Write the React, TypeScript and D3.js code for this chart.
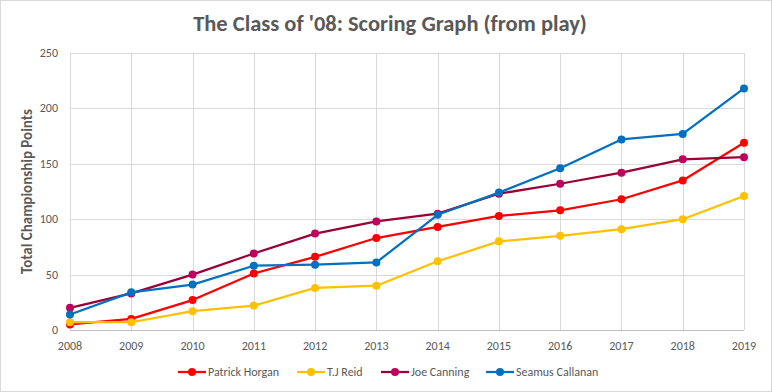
import React, { useRef, useEffect } from 'react'
import * as d3 from 'd3'

const WIDTH = 772
const HEIGHT = 392
const MARGIN = { top: 53, right: 28, bottom: 62, left: 70 }

const years = [2008, 2009, 2010, 2011, 2012, 2013, 2014, 2015, 2016, 2017, 2018, 2019]
const yTicks = [0, 50, 100, 150, 200, 250]

const patrickHorgan = [5, 10, 27, 51, 66, 83, 93, 103, 108, 118, 135, 169]
const tjReid = [7, 7, 17, 22, 38, 40, 62, 80, 85, 91, 100, 121]
const joeCanning = [20, 33, 50, 69, 87, 98, 105, 123, 132, 142, 154, 156]
const seamusCallanan = [14, 34, 41, 58, 59, 61, 104, 124, 146, 172, 177, 218]

const seriesNames = ['Patrick Horgan', 'T.J Reid', 'Joe Canning', 'Seamus Callanan']

const seriesStyles = [
  { line: '#FF0000', marker: '#FF0000' },
  { line: '#FFC000', marker: '#FFC000' },
  { line: '#990033', marker: '#C0005E' },
  { line: '#0070C0', marker: '#0070C0' }
]

const TEXT_COLOR = '#595959'
const FONT = 'Carlito, Calibri, "Open Sans", sans-serif'

const App = () => {
  const ref = useRef<SVGSVGElement>(null)

  useEffect(() => {
    const svg = d3.select(ref.current)
    svg.selectAll('*').remove()

    const allSeries = [patrickHorgan, tjReid, joeCanning, seamusCallanan]

    const x = d3
      .scaleLinear()
      .domain([years[0], years[years.length - 1]])
      .range([MARGIN.left, WIDTH - MARGIN.right])

    const y = d3
      .scaleLinear()
      .domain([0, 250])
      .range([HEIGHT - MARGIN.bottom, MARGIN.top])

    // chart frame
    svg
      .append('rect')
      .attr('x', 0.5)
      .attr('y', 0.5)
      .attr('width', WIDTH - 1)
      .attr('height', HEIGHT - 1)
      .attr('fill', '#fff')
      .attr('stroke', '#D9D9D9')

    // horizontal gridlines
    svg
      .append('g')
      .selectAll('line')
      .data(yTicks.slice(1))
      .join('line')
      .attr('x1', MARGIN.left)
      .attr('x2', WIDTH - MARGIN.right)
      .attr('y1', d => Math.round(y(d)) + 0.5)
      .attr('y2', d => Math.round(y(d)) + 0.5)
      .attr('stroke', '#D9D9D9')

    // vertical gridlines
    svg
      .append('g')
      .selectAll('line')
      .data(years)
      .join('line')
      .attr('x1', d => Math.round(x(d)) + 0.5)
      .attr('x2', d => Math.round(x(d)) + 0.5)
      .attr('y1', y(250))
      .attr('y2', y(0))
      .attr('stroke', '#D9D9D9')

    // baseline
    svg
      .append('line')
      .attr('x1', MARGIN.left)
      .attr('x2', WIDTH - MARGIN.right)
      .attr('y1', Math.round(y(0)) + 0.5)
      .attr('y2', Math.round(y(0)) + 0.5)
      .attr('stroke', '#BFBFBF')

    // y tick labels
    svg
      .append('g')
      .selectAll('text')
      .data(yTicks)
      .join('text')
      .attr('x', MARGIN.left - 12)
      .attr('y', d => y(d) + 4)
      .attr('text-anchor', 'end')
      .attr('font-family', FONT)
      .attr('font-size', 12)
      .attr('fill', TEXT_COLOR)
      .text(d => d)

    // x tick labels
    svg
      .append('g')
      .selectAll('text')
      .data(years)
      .join('text')
      .attr('x', d => x(d))
      .attr('y', y(0) + 20)
      .attr('text-anchor', 'middle')
      .attr('font-family', FONT)
      .attr('font-size', 12)
      .attr('fill', TEXT_COLOR)
      .text(d => d)

    // title
    svg
      .append('text')
      .attr('x', 390)
      .attr('y', 31)
      .attr('text-anchor', 'middle')
      .attr('font-family', FONT)
      .attr('font-size', 22.5)
      .attr('font-weight', 'bold')
      .attr('fill', TEXT_COLOR)
      .text("The Class of '08: Scoring Graph (from play)")

    // y axis title
    svg
      .append('text')
      .attr('transform', `translate(32,${(y(0) + y(250)) / 2}) rotate(-90)`)
      .attr('text-anchor', 'middle')
      .attr('font-family', FONT)
      .attr('font-size', 15)
      .attr('font-weight', 'bold')
      .attr('fill', TEXT_COLOR)
      .text('Total Championship Points')

    const line = d3
      .line<number>()
      .x((d, i) => x(years[i]))
      .y(d => y(d))

    allSeries.forEach((values, s) => {
      const g = svg.append('g')
      g.append('path')
        .datum(values)
        .attr('fill', 'none')
        .attr('stroke', seriesStyles[s].line)
        .attr('stroke-width', 2.25)
        .attr('stroke-linejoin', 'round')
        .attr('d', line)
      g.selectAll('circle')
        .data(values)
        .join('circle')
        .attr('cx', (d, i) => x(years[i]))
        .attr('cy', d => y(d))
        .attr('r', 4)
        .attr('fill', seriesStyles[s].marker)
    })

    // legend
    const legendX = [178, 297, 381, 486]
    const legendY = 372
    const legend = svg
      .append('g')
      .selectAll('g')
      .data(seriesNames)
      .join('g')
      .attr('transform', (d, i) => `translate(${legendX[i]},${legendY})`)
    legend
      .append('line')
      .attr('x1', 0)
      .attr('x2', 28)
      .attr('stroke', (d, i) => seriesStyles[i].line)
      .attr('stroke-width', 2.25)
    legend
      .append('circle')
      .attr('cx', 14)
      .attr('r', 4)
      .attr('fill', (d, i) => seriesStyles[i].marker)
    legend
      .append('text')
      .attr('x', 30)
      .attr('y', 4)
      .attr('font-family', FONT)
      .attr('font-size', 12)
      .attr('fill', TEXT_COLOR)
      .text(d => d)
  }, [])

  return (
    <div style={{ position: 'absolute', left: 0, top: 0 }}>
      <svg ref={ref} width={WIDTH} height={HEIGHT} style={{ display: 'block' }} />
    </div>
  )
}

export default App
